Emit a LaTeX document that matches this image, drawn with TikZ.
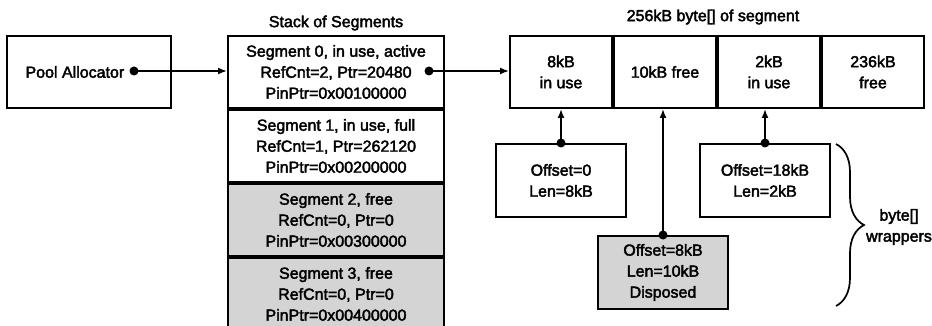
\documentclass[tikz,border=0pt]{standalone}
\usepackage{fontspec}
\setmainfont[FakeBold=2.5]{Liberation Sans}
\usetikzlibrary{arrows.meta,positioning,decorations.pathreplacing}
\definecolor{freegray}{RGB}{212,212,212}

\begin{document}
\begin{tikzpicture}[x=1pt,y=-1pt,>={Latex[length=9pt,width=7pt]},font=\fontsize{16}{21}\selectfont]
\tikzstyle{membox}=[draw,line width=2pt,align=center,inner sep=0pt]
\tikzstyle{segbox}=[membox,minimum width=216pt,minimum height=72pt]
\tikzstyle{cellbox}=[membox,minimum width=102pt,minimum height=72pt]
\tikzstyle{wrapbox}=[membox,minimum width=130pt,minimum height=73pt]
\tikzstyle{link}=[->,line width=1.7pt]
\useasboundingbox (0,0) rectangle (932,326);
% allocator and segment stack
\node[membox,minimum width=164pt,minimum height=72pt] (pool) at (89,72) {};
\node[anchor=west] (pooltxt) at (22,72) {Pool Allocator};
\coordinate (pooldot) at (134,71);
\node[segbox] (seg0) at (336,72) {Segment 0, in use, active\\RefCnt=2, Ptr=20480\hspace{22pt}\\PinPtr=0x00100000};
\node[segbox,below=0pt of seg0] (seg1) {Segment 1, in use, full\\RefCnt=1, Ptr=262120\\PinPtr=0x00200000};
\node[segbox,fill=freegray,below=0pt of seg1] (seg2) {Segment 2, free\\RefCnt=0, Ptr=0\\PinPtr=0x00300000};
\node[segbox,fill=freegray,below=0pt of seg2] (seg3) {Segment 3, free\\RefCnt=0, Ptr=0\\PinPtr=0x00400000};
\node[above=1pt of seg0] (stacktitle) {Stack of Segments};
\coordinate (segdot) at (429,71);
% byte array of the segment
\node[cellbox] (c1) at (561,72) {8kB\\in use};
\node[cellbox,right=0pt of c1] (c2) {10kB free};
\node[cellbox,right=0pt of c2] (c3) {2kB\\in use};
\node[cellbox,right=0pt of c3] (c4) {236kB\\free};
\node (arraytitle) at (713,17) {256kB byte[] of segment};
% wrappers
\node[wrapbox] (w1) at (561,180.5) {Offset=0\\Len=8kB};
\node[wrapbox] (w3) at (765,180.5) {Offset=18kB\\Len=2kB};
\node[wrapbox,fill=freegray] (w2) at (663,272.5) {Offset=8kB\\Len=10kB\\Disposed};
\draw[link] (pooldot)--(seg0.west|-pooldot); \fill (pooldot) circle (4.5pt);
\draw[link] (segdot)--(c1.west|-segdot); \fill (segdot) circle (4.5pt);
\draw[link] (w1.north)--(w1.north|-c1.south); \fill (w1.north) circle (4.5pt);
\draw[link] (w2.north)--(w2.north|-c2.south); \fill (w2.north) circle (4.5pt);
\draw[link] (w3.north)--(w3.north|-c3.south); \fill (w3.north) circle (4.5pt);
\draw[line width=1.7pt,decorate,decoration={brace,amplitude=28pt,aspect=0.5}] (836,144)--(836,306) coordinate (braceend);
\node[align=center] (bracetxt) at (899,227) {byte[]\\wrappers};
\end{tikzpicture}
\end{document}
